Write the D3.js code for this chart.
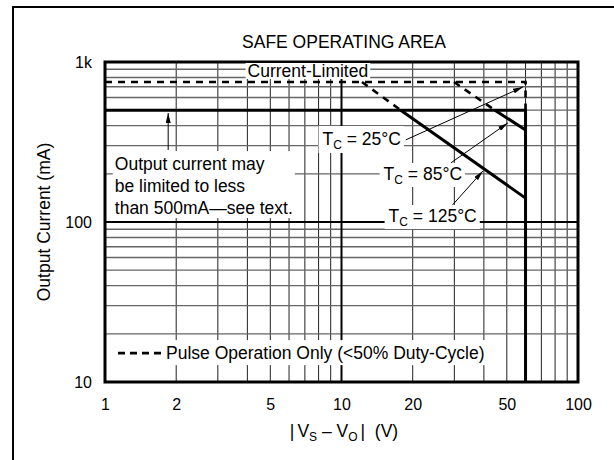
<!DOCTYPE html>
<html>
<head>
<meta charset="utf-8">
<script src="https://cdn.jsdelivr.net/npm/d3@7"></script>
<style>
  body { margin: 0; background: #fff; }
  svg { display: block; font-family: 'Liberation Sans', Arial, Helvetica, sans-serif; }
  text { white-space: pre; }
</style>
</head>
<body>
<svg id="chart" width="614" height="460"></svg>
<script>
// Ticks and grid
const xTicks = [1, 2, 5, 10, 20, 50, 100];
const yTicks = [10, 100, 1000];
const yTickLabels = ['10', '100', '1k'];
const xMinor = [2, 3, 4, 5, 6, 7, 8, 9, 20, 30, 40, 50, 60, 70, 80, 90];
const yMinor = [20, 30, 40, 50, 60, 70, 80, 90, 200, 300, 400, 500, 600, 700, 800, 900];
const xMajor = [10];
const yMajor = [100];

// Curves [V, mA]
const dcLimit = [[1, 500], [60, 500], [60, 10]];
const tc85 = [[44.5, 500], [60, 376]];
const tc125 = [[17.8, 500], [60, 141]];
const pulseLimit = [[1, 750], [60, 750], [60, 500]];
const pulse85 = [[29.9, 750], [44.5, 500]];
const pulse125 = [[12.2, 750], [17.8, 500]];

// Annotation anchors, in data units
const arrow25 = [[18.7, 326], [58.5, 698]];
const arrow85 = [[29.0, 234], [50.5, 416]];
const arrow125 = [[29.5, 128], [39.6, 208]];
const arrowNote = [[1.85, 282], [1.85, 480]];

const svg = d3.select('#chart');
const W = 614, H = 460;
const pLeft = 105, pRight = 578, pTop = 62, pBottom = 382;

const x = d3.scaleLog().domain([1, 100]).range([pLeft, pRight]);
const y = d3.scaleLog().domain([10, 1000]).range([pBottom, pTop]);

svg.append('rect').attr('width', W).attr('height', H).attr('fill', '#fff');

// outer frame (top + left only)
svg.append('path')
  .attr('d', `M13,${H}V7H${W}`)
  .attr('fill', 'none')
  .attr('stroke', '#000')
  .attr('stroke-width', 2);

const defs = svg.append('defs');
defs.append('marker')
  .attr('id', 'arr')
  .attr('viewBox', '0 0 10 5')
  .attr('refX', 10)
  .attr('refY', 2.5)
  .attr('markerWidth', 10)
  .attr('markerHeight', 5)
  .attr('markerUnits', 'userSpaceOnUse')
  .attr('orient', 'auto')
  .append('path')
  .attr('d', 'M0,0L10,2.5L0,5Z')
  .attr('fill', '#000');

const grid = svg.append('g');

grid.selectAll('.vmin')
  .data(xMinor)
  .enter()
  .append('line')
  .attr('x1', d => x(d)).attr('x2', d => x(d))
  .attr('y1', pTop).attr('y2', pBottom)
  .attr('stroke', '#222')
  .attr('stroke-width', 1);

grid.selectAll('.hmin')
  .data(yMinor)
  .enter()
  .append('line')
  .attr('y1', d => y(d)).attr('y2', d => y(d))
  .attr('x1', pLeft).attr('x2', pRight)
  .attr('stroke', '#666')
  .attr('stroke-width', 1.4);

grid.selectAll('.vmaj')
  .data(xMajor)
  .enter()
  .append('line')
  .attr('x1', d => x(d)).attr('x2', d => x(d))
  .attr('y1', pTop).attr('y2', pBottom)
  .attr('stroke', '#000')
  .attr('stroke-width', 2);

grid.selectAll('.hmaj')
  .data(yMajor)
  .enter()
  .append('line')
  .attr('y1', d => y(d)).attr('y2', d => y(d))
  .attr('x1', pLeft).attr('x2', pRight)
  .attr('stroke', '#000')
  .attr('stroke-width', 2);

// curves
const line = d3.line().x(d => x(d[0])).y(d => y(d[1]));
const curves = svg.append('g').attr('fill', 'none').attr('stroke', '#000');

[pulseLimit, pulse85, pulse125].forEach(c => {
  curves.append('path')
    .attr('d', line(c))
    .attr('stroke-width', 2.6)
    .attr('stroke-dasharray', '7,6');
});

[dcLimit, tc85, tc125].forEach(c => {
  curves.append('path')
    .attr('d', line(c))
    .attr('stroke-width', 3)
    .attr('stroke-linejoin', 'miter');
});

// plot border
svg.append('rect')
  .attr('x', pLeft).attr('y', pTop)
  .attr('width', pRight - pLeft).attr('height', pBottom - pTop)
  .attr('fill', 'none')
  .attr('stroke', '#000')
  .attr('stroke-width', 3);

// Labels with white boxes hiding the grid
const labels = svg.append('g');

function boxLabel(px, py, parts, opts = {}) {
  const size = opts.size || 17.5;
  const t = labels.append('text')
    .attr('x', px)
    .attr('y', py)
    .attr('font-size', size)
    .attr('text-anchor', opts.anchor || 'start')
    .attr('fill', '#000');
  let shifted = false;
  parts.forEach(p => {
    if (typeof p === 'object') {
      t.append('tspan').attr('font-size', 12).attr('dy', 4).text(p.sub);
      shifted = true;
    } else {
      t.append('tspan').attr('dy', shifted ? -4 : 0).text(p);
      shifted = false;
    }
  });
  const b = t.node().getBBox();
  const pad = opts.pad || [2, 2, 2, 2]; // top right bottom left
  labels.insert('rect', () => t.node())
    .attr('x', b.x - pad[3])
    .attr('y', b.y - pad[0])
    .attr('width', b.width + pad[1] + pad[3])
    .attr('height', b.height + pad[0] + pad[2])
    .attr('fill', '#fff');
  return t;
}

boxLabel(x(7.21), y(806), ['Current-Limited'], { anchor: 'middle', pad: [-2, 2, -2, 2] });

boxLabel(x(8.31), y(303), ['T', { sub: 'C' }, ' = 25°C'], { pad: [3, 3, 1, 4] });
boxLabel(x(15.07), y(183), ['T', { sub: 'C' }, ' = 85°C'], { pad: [1, 3, 0, 4] });
boxLabel(x(15.82), y(100), ['T', { sub: 'C' }, ' = 125°C'], { pad: [1, 3, 0, 4] });

// note block
const noteLines = ['Output current may', 'be limited to less', 'than 500mA\u2014see text.'];
const note = labels.append('text')
  .attr('x', x(1.10))
  .attr('y', y(211))
  .attr('font-size', 17.5);
noteLines.forEach((s, i) => {
  note.append('tspan')
    .attr('x', x(1.10))
    .attr('dy', i === 0 ? 0 : 22)
    .text(s);
});
const nb = note.node().getBBox();
labels.insert('rect', () => note.node())
  .attr('x', nb.x - 2).attr('y', nb.y - 3)
  .attr('width', nb.width + 4).attr('height', nb.height + 3)
  .attr('fill', '#fff');

// legend
const legX = x(1.135), legY = y(13.9);
const legText = labels.append('text')
  .attr('x', legX + 48)
  .attr('y', legY)
  .attr('font-size', 17.5)
  .text('Pulse Operation Only (<50% Duty-Cycle)');
const lb = legText.node().getBBox();
labels.insert('rect', () => legText.node())
  .attr('x', legX - 6).attr('y', lb.y - 3)
  .attr('width', lb.x + lb.width - legX + 9).attr('height', lb.height + 5)
  .attr('fill', '#fff');
labels.append('line')
  .attr('x1', legX).attr('x2', legX + 45)
  .attr('y1', legY - 6).attr('y2', legY - 6)
  .attr('stroke', '#000')
  .attr('stroke-width', 2.6)
  .attr('stroke-dasharray', '7,5');

// arrows
[arrow25, arrow85, arrow125, arrowNote].forEach(a => {
  svg.append('line')
    .attr('x1', x(a[0][0])).attr('y1', y(a[0][1]))
    .attr('x2', x(a[1][0])).attr('y2', y(a[1][1]))
    .attr('stroke', '#000')
    .attr('stroke-width', 1)
    .attr('marker-end', 'url(#arr)');
});

// axes
const xAxis = d3.axisBottom(x)
  .tickValues(xTicks)
  .tickFormat(d3.format('d'))
  .tickSize(0)
  .tickPadding(17);
svg.append('g')
  .attr('transform', `translate(0,${pBottom})`)
  .call(xAxis)
  .call(g => g.select('.domain').remove())
  .attr('font-family', null)
  .attr('font-size', 16);

const yAxis = d3.axisLeft(y)
  .tickValues(yTicks)
  .tickFormat((d, i) => yTickLabels[i])
  .tickSize(0)
  .tickPadding(13);
svg.append('g')
  .attr('transform', `translate(${pLeft},0)`)
  .call(yAxis)
  .call(g => g.select('.domain').remove())
  .attr('font-family', null)
  .attr('font-size', 16);

// titles
svg.append('text')
  .attr('x', 344)
  .attr('y', 48)
  .attr('text-anchor', 'middle')
  .attr('font-size', 17.5)
  .text('SAFE OPERATING AREA');

svg.append('text')
  .attr('transform', `translate(50,${(pTop + pBottom) / 2}) rotate(-90)`)
  .attr('text-anchor', 'middle')
  .attr('font-size', 17.5)
  .text('Output Current (mA)');

const xt = svg.append('text')
  .attr('x', 344)
  .attr('y', 437)
  .attr('text-anchor', 'middle')
  .attr('font-size', 17.5);
xt.append('tspan').text('|');
xt.append('tspan').attr('dx', 3).text('V');
xt.append('tspan').attr('font-size', 12).attr('dy', 4).text('S');
xt.append('tspan').attr('dy', -4).text(' \u2013 V');
xt.append('tspan').attr('font-size', 12).attr('dy', 4).text('O');
xt.append('tspan').attr('dy', -4).attr('dx', 3).text('|');
xt.append('tspan').text('  (V)');
</script>
</body>
</html>
